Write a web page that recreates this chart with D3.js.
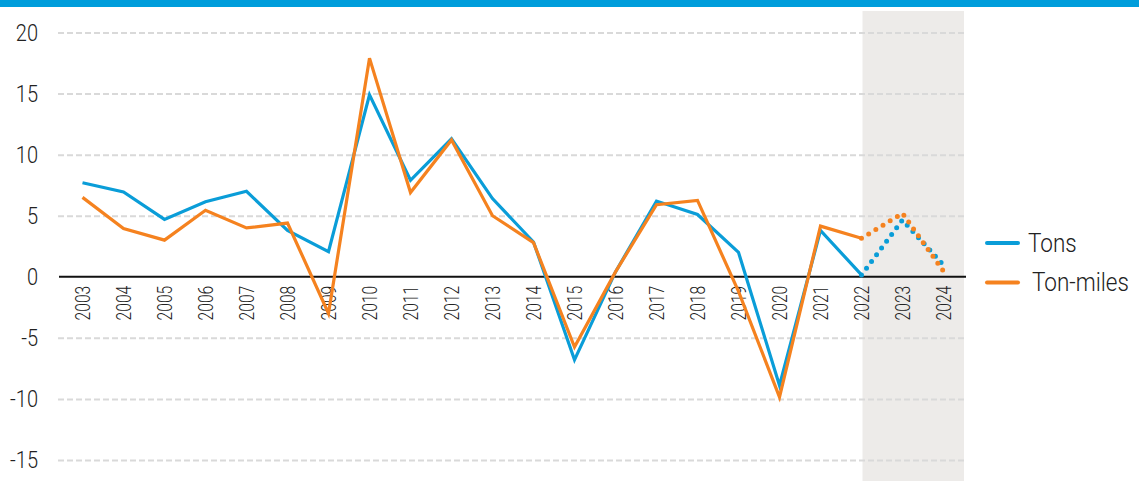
<!DOCTYPE html>
<html>
<head>
<meta charset="utf-8">
<script src="https://cdn.jsdelivr.net/npm/d3@7"></script>
<style>
  html, body { margin: 0; padding: 0; background: #fff; }
  svg { display: block; font-family: Roboto, "Open Sans", sans-serif; font-weight: 300; }
</style>
</head>
<body>
<div id="chart"></div>
<script>
// ===== Data =====
const years = [2003, 2004, 2005, 2006, 2007, 2008, 2009, 2010, 2011, 2012, 2013,
               2014, 2015, 2016, 2017, 2018, 2019, 2020, 2021, 2022, 2023, 2024];
const tons = [7.7, 6.95, 4.7, 6.15, 7.0, 3.8, 2.05, 14.9, 7.9, 11.3, 6.4,
              2.85, -6.8, 0.4, 6.2, 5.1, 2.0, -8.9, 3.8, 0.15, 4.65, 0.95];
const tonMiles = [6.5, 3.95, 3.0, 5.45, 4.0, 4.4, -3.0, 17.9, 6.9, 11.2, 5.0,
                  2.8, -5.75, 0.4, 5.9, 6.25, -1.2, -9.85, 4.15, 3.15, 5.2, 0.45];
const yTicks = [-15, -10, -5, 0, 5, 10, 15, 20];
const forecastFrom = 2022; // dotted from here on
const seriesNames = ["Tons", "Ton-miles"];

// ===== Config =====
const W = 1139, H = 481;
const PLOT = { left: 62, right: 964, top: 11, bottom: 481 };
const COLORS = { "Tons": "#0a9dd8", "Ton-miles": "#f5821f" };

const svg = d3.select("#chart").append("svg")
  .attr("width", W).attr("height", H);

// top band
svg.append("rect").attr("x", 0).attr("y", 0).attr("width", W).attr("height", 7)
  .attr("fill", "#009ddb");

const x = d3.scaleBand().domain(years).range([PLOT.left, PLOT.right]).padding(0);
const cx = d => x(d) + x.bandwidth() / 2;
const y = d3.scaleLinear().domain([-15, 20]).range([460, 32.5]);

// squeeze text horizontally (font looks condensed)
function condense(sel, f) {
  sel.each(function () {
    const w = this.getComputedTextLength();
    d3.select(this).attr("textLength", w * f).attr("lengthAdjust", "spacingAndGlyphs");
  });
}

// forecast shading
svg.append("rect")
  .attr("x", cx(forecastFrom) + 1).attr("y", PLOT.top)
  .attr("width", PLOT.right - cx(forecastFrom) - 1).attr("height", PLOT.bottom - PLOT.top)
  .attr("fill", "#edebe9");

// grid
const gridAxis = d3.axisLeft(y).tickValues(yTicks.filter(v => v !== 0))
  .tickSize(-(PLOT.right - 58)).tickFormat("");
const grid = svg.append("g").attr("transform", "translate(58,0)").call(gridAxis);
grid.select(".domain").remove();
grid.selectAll("line").attr("stroke", "#d9d9d9").attr("stroke-width", 2).attr("stroke-dasharray", "6,3");

// y labels
const yLab = svg.append("g").selectAll("text").data(yTicks).join("text")
  .attr("x", 38).attr("y", d => y(d))
  .attr("dy", "0.36em")
  .attr("text-anchor", "end")
  .style("font-size", "23px").attr("fill", "#222")
  .text(d => d);
condense(yLab, 0.87);

// zero line
svg.append("line").attr("x1", 59).attr("x2", 966).attr("y1", y(0)).attr("y2", y(0))
  .attr("stroke", "#111").attr("stroke-width", 2);

// x labels (rotated)
const xAxis = svg.append("g").attr("transform", `translate(0,${y(0)})`)
  .call(d3.axisBottom(x).tickSize(0).tickPadding(0));
xAxis.select(".domain").remove();
const xLab = xAxis.selectAll("text")
  .attr("transform", d => `translate(0,9) rotate(-90)`)
  .attr("x", 0).attr("y", 0).attr("dy", "0.35em")
  .style("text-anchor", "end")
  .style("font-size", "20px").style("font-family", "Roboto").style("font-weight", 300)
  .attr("fill", "#222");
condense(xLab, 0.78);

// lines
const line = d3.line().x(d => cx(d.year)).y(d => y(d.v));
const seriesData = [
  { name: "Tons", values: tons },
  { name: "Ton-miles", values: tonMiles },
];
seriesData.forEach(s => {
  const pts = years.map((yr, i) => ({ year: yr, v: s.values[i] }));
  svg.append("path").datum(pts.filter(p => p.year <= forecastFrom))
    .attr("d", line).attr("fill", "none")
    .attr("stroke", COLORS[s.name]).attr("stroke-width", 3.2)
    .attr("stroke-linejoin", "miter");
  svg.append("path").datum(pts.filter(p => p.year >= forecastFrom))
    .attr("d", line).attr("fill", "none")
    .attr("stroke", COLORS[s.name]).attr("stroke-width", 5)
    .attr("stroke-linecap", "round").attr("stroke-dasharray", "0,8.4")
    .attr("stroke-dashoffset", -8.4);
});

// legend
const legend = svg.append("g").attr("transform", "translate(987,243)");
seriesNames.forEach((n, i) => {
  const g = legend.append("g").attr("transform", `translate(0,${i * 39.5})`);
  g.append("line").attr("x1", 0).attr("x2", 31).attr("y1", 0).attr("y2", 0)
    .attr("stroke", COLORS[n]).attr("stroke-width", 4).attr("stroke-linecap", "round");
  const t = g.append("text").attr("x", 41 + (i ? 4 : 0)).attr("y", 0).attr("dy", "0.34em")
    .style("font-size", "25px").attr("fill", "#222").text(n);
  condense(t, 0.9);
});
</script>
</body>
</html>
